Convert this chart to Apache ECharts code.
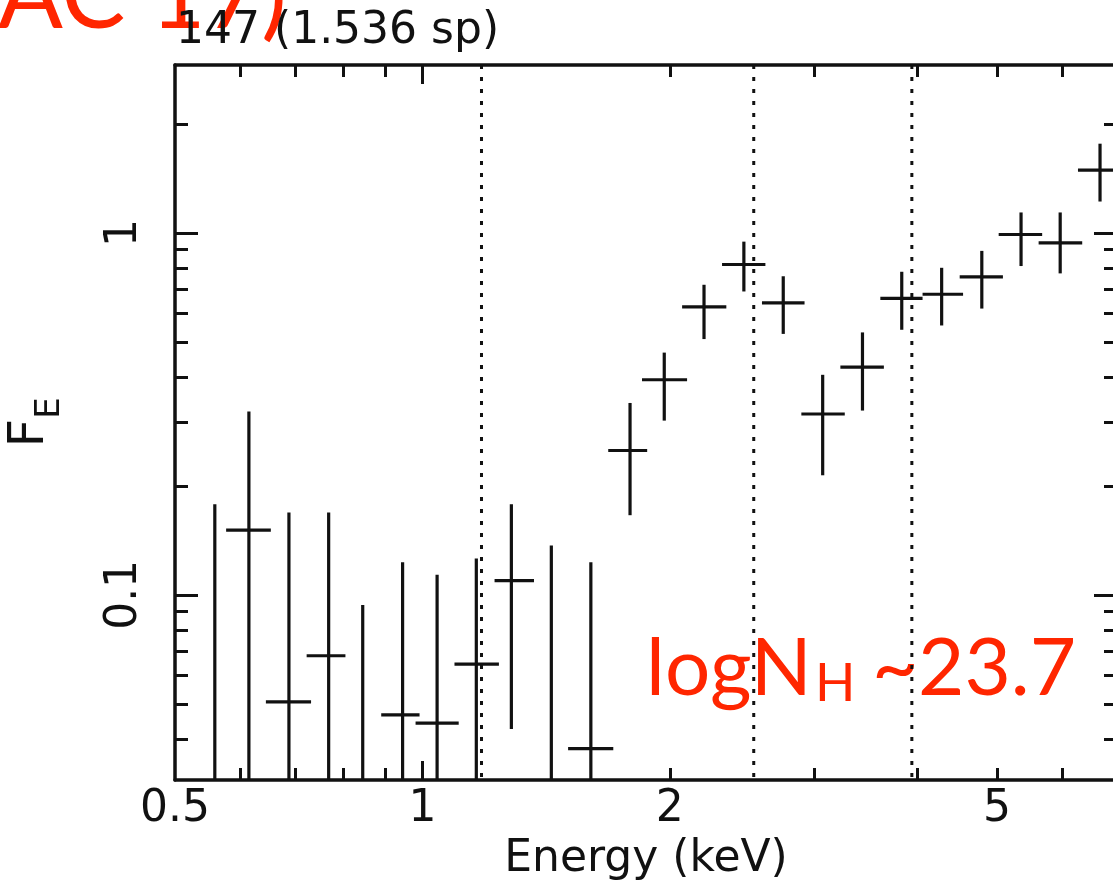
<!DOCTYPE html>
<html>
<head>
<meta charset="utf-8">
<script src="https://cdn.jsdelivr.net/npm/echarts@6/dist/echarts.min.js"></script>
<style>
  html, body { margin: 0; padding: 0; background: #fff; }
  #chart { width: 1113px; height: 885px; }
</style>
</head>
<body>
<div id="chart"></div>
<script>
// spectral bins: energy centre and bin edges (keV)
const energy   = [0.559, 0.615, 0.688, 0.769, 0.846, 0.946, 1.042, 1.163, 1.283, 1.435, 1.603, 1.789,
                  1.969, 2.201, 2.461, 2.748, 3.069, 3.431, 3.83, 4.283, 4.793, 5.35, 5.97, 6.675];
const energyLo = [0.53, 0.577, 0.645, 0.723, 0.81, 0.891, 0.981, 1.094, 1.224, 1.37, 1.504, 1.683,
                  1.85, 2.07, 2.315, 2.589, 2.891, 3.225, 3.607, 4.06, 4.505, 5.025, 5.62, 6.275];
const energyHi = [0.59, 0.654, 0.732, 0.806, 0.88, 0.992, 1.107, 1.239, 1.367, 1.5, 1.707, 1.877,
                  2.099, 2.343, 2.614, 2.917, 3.265, 3.643, 4.06, 4.548, 5.085, 5.676, 6.35, 7.1];
// F_E and its error range (centres below 0.03 fall off the plot)
const flux     = [0.02, 0.151, 0.0506, 0.0679, 0.02, 0.0466, 0.0442, 0.0644, 0.1095, 0.02, 0.0376, 0.2505,
                  0.393, 0.6245, 0.818, 0.641, 0.316, 0.426, 0.659, 0.677, 0.756, 0.99, 0.938, 1.49];
const fluxLo   = [0.001, 0.001, 0.001, 0.001, 0.001, 0.001, 0.001, 0.001, 0.0426, 0.001, 0.001, 0.166,
                  0.303, 0.509, 0.689, 0.526, 0.214, 0.323, 0.54, 0.555, 0.618, 0.81, 0.773, 1.221];
const fluxHi   = [0.178, 0.321, 0.169, 0.169, 0.0938, 0.123, 0.1136, 0.126, 0.178, 0.137, 0.123, 0.339,
                  0.467, 0.719, 0.946, 0.759, 0.4055, 0.531, 0.781, 0.801, 0.892, 1.139, 1.139, 1.764];

const edgeLines = [1.18, 2.53, 3.94];

const xLabels = [0.5, 1, 2, 5];
const xMajor = [1];
const xMinor = [0.6, 0.7, 0.8, 0.9, 2, 3, 4, 5, 6];
const yLabels = [0.1, 1];
const yMajor = [0.1, 1];
const yMinor = [0.04, 0.05, 0.06, 0.07, 0.08, 0.09, 0.2, 0.3, 0.4, 0.5, 0.6, 0.7, 0.8, 0.9, 2];

const INK = '#111';
const RED = '#ff2600';
const FONT = 'DejaVu Sans';

const chart = echarts.init(document.getElementById('chart'));

function logAxis(extra, range) {
  return Object.assign({
    type: 'log',
    logBase: 10,
    min: range[0],
    max: range[1],
    splitLine: { show: false },
    axisLine: { show: false, onZero: false },
    axisLabel: { show: false },
    axisTick: { show: false }
  }, extra);
}

const xRange = [0.5, 7];
const yRange = [0.0308, 2.91];
const frameLine = { show: true, onZero: false, lineStyle: { color: INK, width: 3.5 } };

function ticks(values, len) {
  return { show: true, inside: true, customValues: values, length: len, lineStyle: { color: INK, width: 3 } };
}

const xAxes = [
  logAxis({
    position: 'bottom',
    axisLine: frameLine,
    axisTick: ticks(xMajor, 19),
    axisLabel: {
      show: true, customValues: xLabels, showMinLabel: true, margin: 8,
      fontFamily: FONT, fontSize: 44, color: INK,
      formatter: v => String(v)
    },
    name: 'Energy (keV)',
    nameLocation: 'middle',
    nameGap: 58,
    nameTextStyle: { fontFamily: FONT, fontSize: 44, color: INK }
  }, xRange),
  logAxis({ position: 'bottom', axisTick: ticks(xMinor, 12) }, xRange),
  logAxis({ position: 'top', axisLine: frameLine, axisTick: ticks(xMajor, 19) }, xRange),
  logAxis({ position: 'top', axisTick: ticks(xMinor, 12) }, xRange)
];

const yAxes = [
  logAxis({
    position: 'left',
    axisLine: frameLine,
    axisTick: ticks(yMajor, 23),
    axisLabel: {
      show: true, customValues: yLabels, rotate: 90, margin: 28,
      fontFamily: FONT, fontSize: 44, color: INK,
      formatter: v => String(v)
    },
    name: '{f|F}{s|E}',
    nameLocation: 'middle',
    nameRotate: 90,
    nameGap: 108,
    nameTextStyle: {
      rich: {
        f: { fontFamily: FONT, fontSize: 50, color: INK },
        s: { fontFamily: FONT, fontSize: 34, color: INK, padding: [40, 0, 0, 0] }
      }
    }
  }, yRange),
  logAxis({ position: 'left', axisTick: ticks(yMinor, 13) }, yRange),
  logAxis({ position: 'right', axisLine: frameLine, axisTick: ticks(yMajor, 23) }, yRange),
  logAxis({ position: 'right', axisTick: ticks(yMinor, 13) }, yRange)
];

const bins = energy.map((e, i) => [e, energyLo[i], energyHi[i], flux[i], fluxLo[i], fluxHi[i]]);

function renderErrorBar(params, api) {
  const x = api.value(0), y = api.value(3);
  const l = api.coord([api.value(1), y]);
  const r = api.coord([api.value(2), y]);
  const b = api.coord([x, api.value(4)]);
  const t = api.coord([x, api.value(5)]);
  const style = { stroke: INK, lineWidth: 3.2 };
  return {
    type: 'group',
    children: [
      { type: 'line', shape: { x1: l[0], y1: l[1], x2: r[0], y2: r[1] }, style },
      { type: 'line', shape: { x1: b[0], y1: b[1], x2: t[0], y2: t[1] }, style }
    ]
  };
}

function renderEdge(params, api) {
  const cs = params.coordSys;
  const p = api.coord([api.value(0), 1]);
  return {
    type: 'line',
    shape: { x1: p[0], y1: cs.y, x2: p[0], y2: cs.y + cs.height },
    style: { stroke: INK, lineWidth: 3, lineDash: [4, 8] }
  };
}

chart.setOption({
  backgroundColor: '#fff',
  animation: false,
  grid: { left: 175, top: 65, width: 942, height: 715, containLabel: false, outerBoundsMode: 'none' },
  xAxis: xAxes,
  yAxis: yAxes,
  series: [
    {
      type: 'custom',
      renderItem: renderEdge,
      data: edgeLines.map(v => [v]),
      encode: { x: 0 },
      clip: true,
      silent: true
    },
    {
      type: 'custom',
      renderItem: renderErrorBar,
      data: bins,
      encode: { x: 0, y: 3 },
      clip: true,
      silent: true
    }
  ],
  graphic: [
    {
      type: 'text', x: -2, y: -51, z: 0,
      style: { text: 'AC 17)', font: '96px Lato', fill: RED }
    },
    {
      type: 'text', x: 176, y: 10, z: 10,
      style: { text: '147 (1.536 sp)', font: '44px "DejaVu Sans"', fill: INK }
    },
    {
      type: 'text', x: 646, y: 629,
      style: { text: 'logN', font: '80px Lato', fill: RED }
    },
    {
      type: 'text', x: 815, y: 657,
      style: { text: 'H', font: '53px Lato', fill: RED }
    },
    {
      type: 'text', x: 872, y: 629,
      style: { text: '~', font: '80px Lato', fill: RED }
    },
    {
      type: 'text', x: 918, y: 629,
      style: { text: '23.7', font: '80px Lato', fill: RED }
    }
  ]
});
</script>
</body>
</html>
